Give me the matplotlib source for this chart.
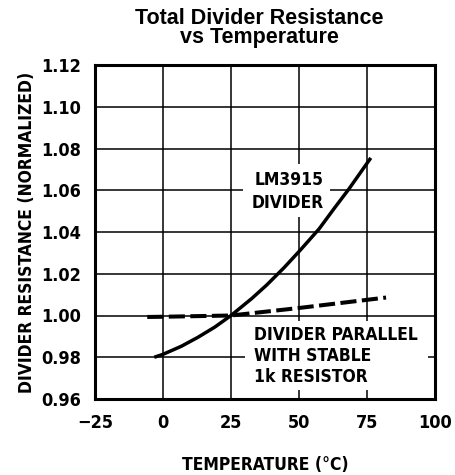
import matplotlib
matplotlib.use("Agg")
import matplotlib.pyplot as plt
from matplotlib.patches import Rectangle

# ---- data ----
temp_solid = [-3.2, 0.0, 6.8, 12.9, 19.1, 25.0, 32.6, 38.2, 44.5, 50.6, 57.4, 63.0, 68.4, 76.4]
res_solid = [0.9800, 0.9814, 0.9853, 0.9896, 0.9945, 1.0000, 1.0081, 1.0147, 1.0229, 1.0315, 1.0415, 1.0514, 1.0607, 1.0755]
temp_dash = [-5.8, 0.0, 25.0, 50.0, 82.0]
res_dash = [0.9993, 0.9994, 1.0000, 1.0036, 1.0086]
x_ticks = [-25, 0, 25, 50, 75, 100]
x_ticklabels = ["\u221225", "0", "25", "50", "75", "100"]
y_ticks = [0.96, 0.98, 1.00, 1.02, 1.04, 1.06, 1.08, 1.10, 1.12]
y_ticklabels = ["0.96", "0.98", "1.00", "1.02", "1.04", "1.06", "1.08", "1.10", "1.12"]

COND = dict(fontfamily="DejaVu Sans", fontstretch="condensed", fontweight="bold")

fig = plt.figure(figsize=(4.56, 4.75), dpi=100)
ax = fig.add_axes([95/456, 1-399/475, 340/456, 334/475])

ax.set_xlim(-25, 100)
ax.set_ylim(0.96, 1.12)
ax.set_xticks(x_ticks)
ax.set_xticklabels(x_ticklabels)
ax.set_yticks(y_ticks)
ax.set_yticklabels(y_ticklabels)
ax.tick_params(length=0, pad=10)
ax.tick_params(axis="x", pad=11)
for lab in ax.get_xticklabels() + ax.get_yticklabels():
    lab.set_fontfamily("DejaVu Sans")
    lab.set_fontstretch("condensed")
    lab.set_fontweight("bold")
    lab.set_fontsize(13)
ax.grid(True, color="black", linewidth=1.1)
ax.set_axisbelow(True)
for s in ax.spines.values():
    s.set_linewidth(2.2)
    s.set_zorder(5)

# white masks behind the labels (they hide the grid)
ax.add_patch(Rectangle((0.435, 0.545), 0.256, 0.705 - 0.545, transform=ax.transAxes,
                       facecolor="white", edgecolor="none", zorder=2.5))
ax.add_patch(Rectangle((0.441, 0.027), 0.979 - 0.441, 0.235 - 0.027, transform=ax.transAxes,
                       facecolor="white", edgecolor="none", zorder=2.5))

ax.plot(temp_solid, res_solid, color="black", linewidth=2.5, solid_capstyle="butt", zorder=4)
ax.plot(temp_dash, res_dash, color="black", linewidth=2.9, dashes=(4.0, 1.35), zorder=4)

txt_kw = dict(fontsize=12.5, color="black", zorder=3, **COND)
ax.text(59.2, 1.0594, "LM3915\nDIVIDER", ha="right", va="center", multialignment="right",
        linespacing=1.35, **txt_kw)
ax.text(33.4, 0.9806, "DIVIDER PARALLEL\nWITH STABLE\n1k RESISTOR", ha="left", va="center",
        linespacing=1.22, **txt_kw)

ax.set_ylabel("DIVIDER RESISTANCE (NORMALIZED)", fontsize=12.5, labelpad=4, **COND)
ax.set_xlabel("TEMPERATURE (\u00b0C)", fontsize=12.5, labelpad=17, **COND)

fig.text(259/456, 1-28/475, "Total Divider Resistance\nvs Temperature", ha="center", va="center",
         fontfamily=["Liberation Sans", "DejaVu Sans"], fontweight="bold", fontsize=15.5,
         linespacing=0.92)

fig.savefig("out.png", dpi=100)
